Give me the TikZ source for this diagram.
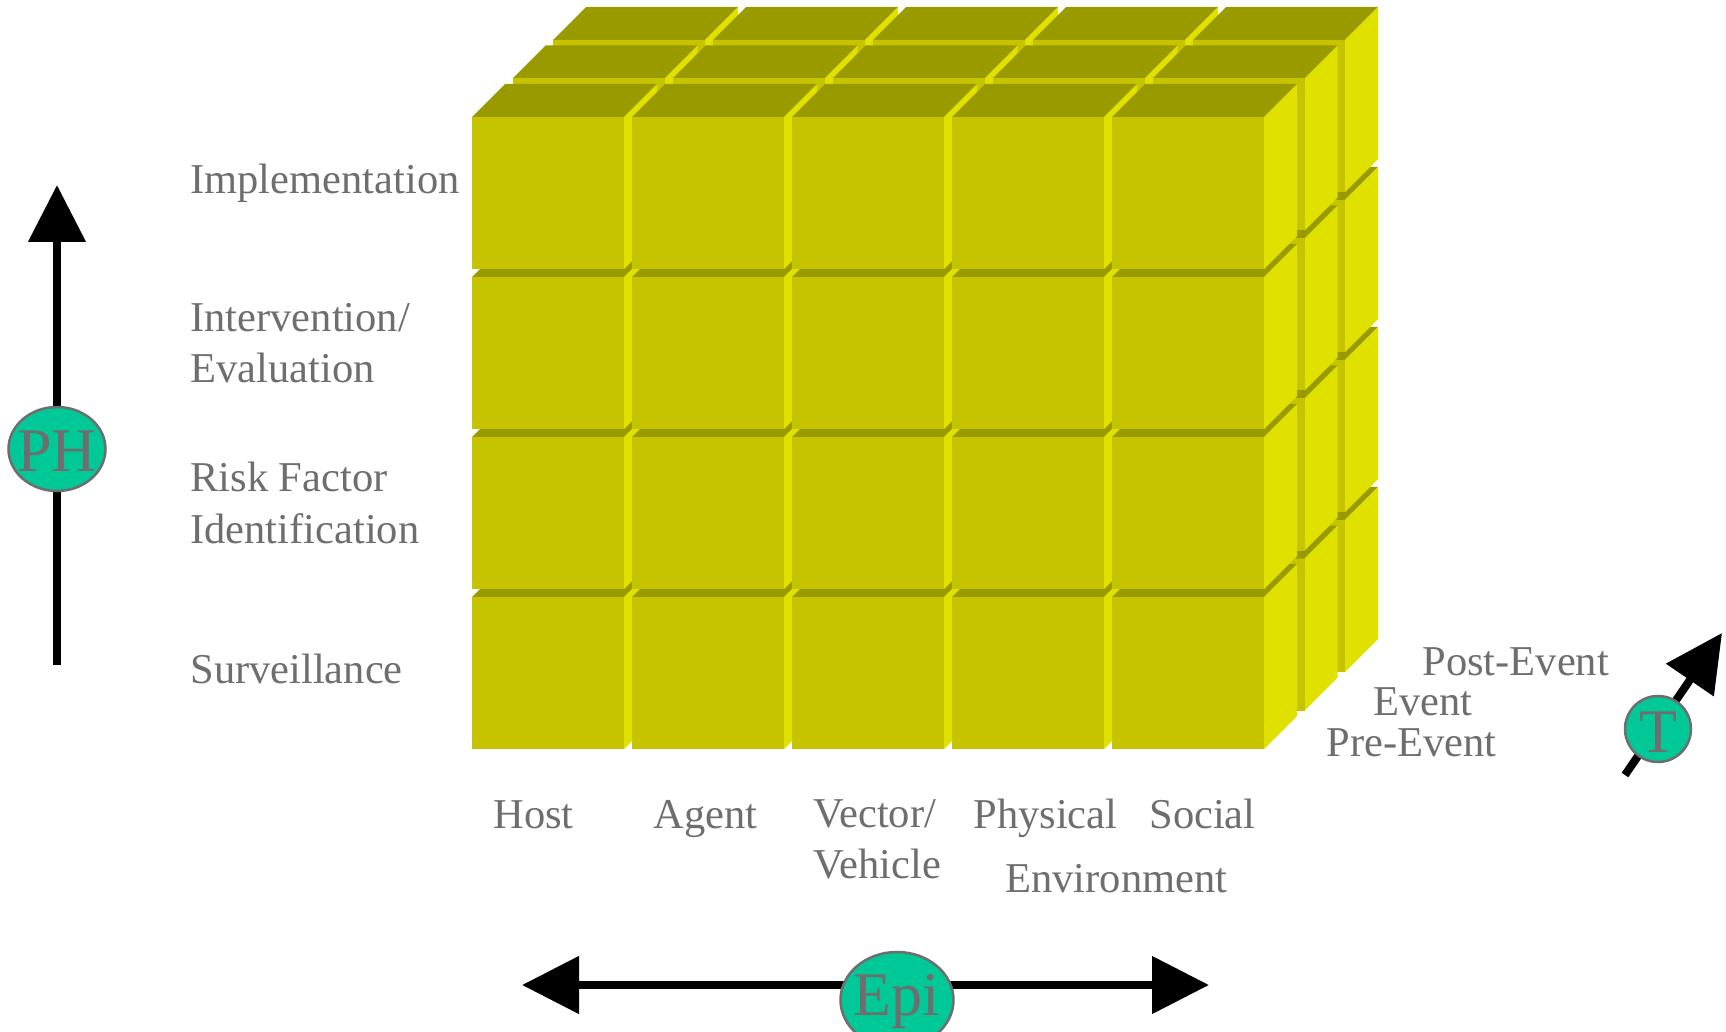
\documentclass[tikz,border=0pt]{standalone}
\usepackage{fontspec}
\setmainfont{Liberation Serif}
\usetikzlibrary{arrows.meta,shapes.geometric}
\definecolor{cfront}{RGB}{198,196,0}
\definecolor{ctop}{RGB}{153,153,0}
\definecolor{cside}{RGB}{225,225,0}
\definecolor{txtgray}{RGB}{110,110,110}
\definecolor{ovalgreen}{RGB}{0,200,150}
\tikzset{bigtip/.tip={Triangle[length=28.5pt,width=28pt]}}
\begin{document}
\begin{tikzpicture}[x=0.5pt,y=-0.5pt,
  lbl/.style={font=\fontsize{21.25pt}{25.5pt}\selectfont, text=txtgray, inner sep=0pt, anchor=base west, align=left},
  oval/.style={ellipse, fill=ovalgreen, draw=txtgray, line width=1.25pt, inner sep=0pt, text=txtgray, font=\fontsize{31pt}{31pt}\selectfont},
  axisline/.style={line width=4pt},
  topface/.style={fill=ctop},
  sideface/.style={fill=cside},
  frontface/.style={fill=cfront},
]
\useasboundingbox (0,0) rectangle (1726,1032);

% cube grid: 3 depth layers, 5 columns, 4 rows
\foreach \k in {2,1,0}{
  \foreach \i in {0,...,4}{
    \foreach \j in {3,2,1,0}{
      \pgfmathsetmacro\X{472+160*\i+40.5*\k}
      \pgfmathsetmacro\Y{117+160*\j-38.5*\k}
      \fill[topface] (\X,\Y) -- ++(33,-33) -- ++(152,0) -- ++(-33,33) -- cycle;
      \fill[sideface] (\X+152,\Y) -- ++(33,-33) -- ++(0,152) -- ++(-33,33) -- cycle;
      \fill[frontface] (\X,\Y) rectangle ++(152,152);
    }
  }
}

% row labels (base anchor = baseline of last line)
\node[lbl] (impl) at (190,194) {Implementation};
\node[lbl] (interv) at (190,383) {Intervention/\\Evaluation};
\node[lbl] (risk) at (190,543) {Risk Factor\\Identification};
\node[lbl] (surv) at (190,683) {Surveillance};

% column labels
\node[lbl] (host) at (493,828) {Host};
\node[lbl] (agent) at (653,828) {Agent};
\node[lbl] (vector) at (813,878) {Vector/\\Vehicle};
\node[lbl] (phys) at (973,828) {Physical};
\node[lbl] (social) at (1149,828) {Social};
\node[lbl] (env) at (1005,892) {Environment};

% depth labels
\node[lbl] (post) at (1422,675) {Post-Event};
\node[lbl] (event) at (1373,715) {Event};
\node[lbl] (pre) at (1326,756) {Pre-Event};

% PH axis
\coordinate (phbot) at (57,665);
\coordinate (phtop) at (57,185);
\draw[axisline,-{bigtip}] (phbot) -- (phtop);
\node[oval, minimum width=48.5pt, minimum height=42pt] (ph) at (57,449)
  {\raisebox{-11.5pt}[0pt][0pt]{\makebox[0pt]{PH}}};

% Epi axis
\coordinate (epil) at (522,985);
\coordinate (epir) at (1209,985);
\draw[axisline,{bigtip}-{bigtip}] (epil) -- (epir);
\node[oval, minimum width=56.5pt, minimum height=48pt] (epi) at (897,1000)
  {\raisebox{-7.5pt}[0pt][0pt]{\makebox[0pt]{Epi}}};

% T axis
\coordinate (tbot) at (1625,775);
\coordinate (ttop) at (1722,633);
\draw[axisline,-{bigtip}] (tbot) -- (ttop);
\node[oval, minimum width=33pt, minimum height=33pt] (t) at (1658,729)
  {\raisebox{-11.5pt}[0pt][0pt]{\makebox[0pt]{T}}};
\end{tikzpicture}
\end{document}
